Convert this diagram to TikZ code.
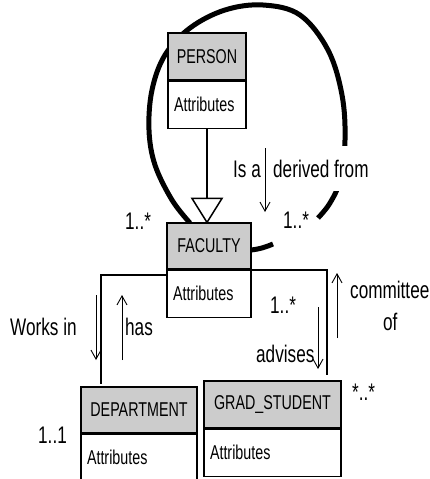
\documentclass[tikz,border=0pt]{standalone}
\usepackage{fontspec}
\setmainfont{Liberation Sans}[FakeStretch=0.715]
\usetikzlibrary{arrows.meta,calc}

\definecolor{hdrgray}{RGB}{204,204,204}
\newcommand{\boxfont}{\fontsize{20}{24}\selectfont}
\newcommand{\lblfont}{\fontsize{24}{28}\selectfont}

\begin{document}
\begin{tikzpicture}[x=1pt, y=-1pt,
  classhdr/.style={draw, line width=1.2pt, fill=hdrgray, inner sep=0pt, font=\boxfont},
  classattr/.style={draw, line width=1.2pt, fill=white, align=left, inner xsep=6pt, inner ysep=0pt, font=\boxfont, anchor=north},
  loopline/.style={line width=5pt},
  assoc/.style={line width=2pt},
  annot/.style={line width=0.9pt, -{Straight Barb[length=9pt,width=10pt]}},
  lbl/.style={inner sep=0pt, font=\lblfont, anchor=base west}]
\useasboundingbox (0,0) rectangle (430,479);

% reflexive association of FACULTY, drawn first so the boxes sit on top
\draw[loopline] plot[smooth, tension=0.6] coordinates {(190,223) (172,200) (155,165) (149,130) (152,90) (165,55) (190,28) (225,10) (263,5) (300,15) (328,50) (342,95) (345,140) (340,180) (330,203) (318,218)};
\draw[loopline] (251,250) .. controls (260,249) and (266,247) .. (273,244);

% classes
\node[classhdr, minimum width=78pt, minimum height=47pt] (person) at (207,56.5) {PERSON};
\node[classattr, text width=66pt, minimum height=47pt] (personattr) at (person.south) {Attributes};

\node[classhdr, minimum width=84pt, minimum height=46pt] (faculty) at (209,246) {FACULTY};
\node[classattr, text width=72pt, minimum height=47pt] (facultyattr) at (faculty.south) {Attributes};

\node[classhdr, minimum width=116pt, minimum height=46pt] (dept) at (139,410) {DEPARTMENT};
\node[classattr, text width=104pt, minimum height=52pt] (deptattr) at (dept.south) {\raisebox{5pt}{Attributes}};

\node[classhdr, minimum width=137pt, minimum height=47pt] (grad) at (272.5,404.5) {GRAD\_STUDENT};
\node[classattr, text width=125pt, minimum height=47pt] (gradattr) at (grad.south) {Attributes};

% generalization FACULTY -> PERSON
\coordinate (gtip) at (personattr.south |- faculty.north);
\coordinate (gbase) at ($(gtip)+(0,-24)$);
\draw[line width=1.2pt] (personattr.south) -- (gbase);
\draw[line width=1.5pt, fill=white] (gtip) -- ($(gbase)+(-15,0)$) -- ($(gbase)+(15,0)$) -- cycle;

% associations
\draw[assoc] ([yshift=-5pt]facultyattr.north west) -| ([xshift=21pt,yshift=2pt]dept.north west);
\draw[assoc] (facultyattr.north east) -| ([xshift=124pt,yshift=5pt]grad.north west);

% reading-direction arrows
\coordinate (isaA) at (265,148);  \coordinate (isaB) at (265,212);
\coordinate (workA) at (96,295);  \coordinate (workB) at (96,360);
\coordinate (hasA) at (122,360);  \coordinate (hasB) at (122,295);
\coordinate (advA) at (318,307);  \coordinate (advB) at (318,369);
\coordinate (comA) at (337,338);  \coordinate (comB) at (337,273);
\draw[annot] (isaA) -- (isaB);
\draw[annot] (workA) -- (workB);
\draw[annot] (hasA) -- (hasB);
\draw[annot] (advA) -- (advB);
\draw[annot] (comA) -- (comB);

% labels and multiplicities
\node[lbl] (isa) at (233,177) {Is a};
\node[lbl, fill=white, inner ysep=14pt] (derived) at (273,177) {derived from};
\node[lbl] (mleft) at (125,229) {1..*};
\node[lbl] (mright) at (283,228) {1..*};
\node[lbl] (works) at (10,335) {Works in};
\node[lbl] (has) at (125,335) {has};
\node[lbl] (mdept) at (38,443) {1..1};
\node[lbl] (mmid) at (270,313) {1..*};
\node[lbl] (advises) at (256,362) {advises};
\node[lbl] (committee) at (350,298) {committee};
\node[lbl] (of) at (383,330) {of};
\node[lbl] (mgrad) at (352,400) {*..*};
\end{tikzpicture}
\end{document}
